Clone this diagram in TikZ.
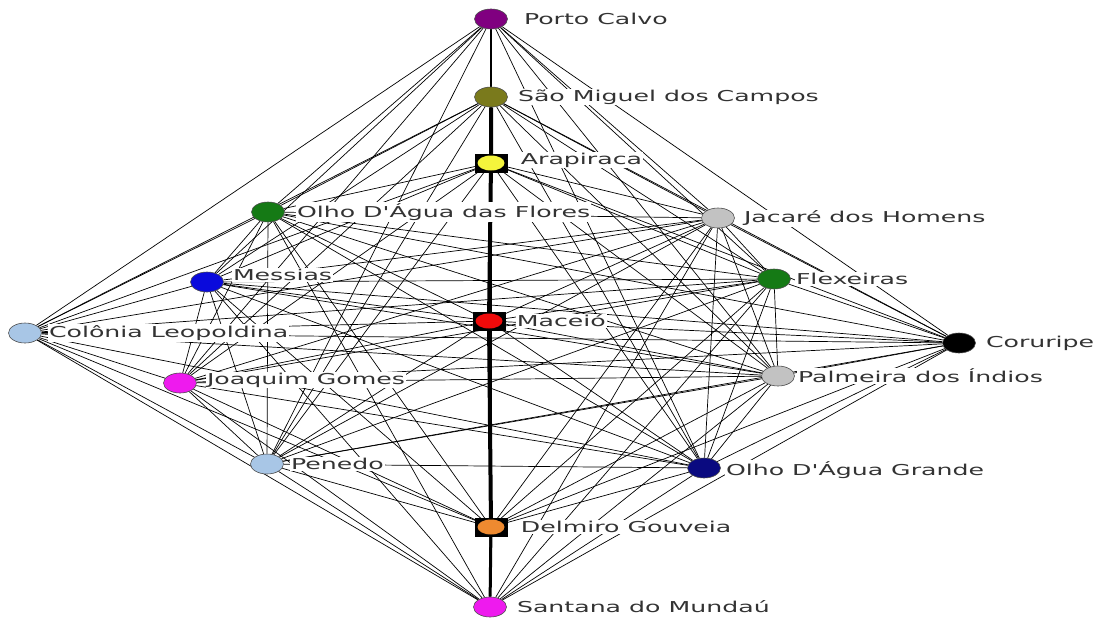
\documentclass[tikz,border=0pt]{standalone}
\usepackage{fontspec}
\newfontfamily\lblfont[FakeStretch=1.68]{DejaVu Sans}
\usetikzlibrary{positioning,shapes.geometric,backgrounds}
\definecolor{pcpurple}{HTML}{800080}
\definecolor{smcolive}{HTML}{7A7A1C}
\definecolor{arayellow}{HTML}{F4F43C}
\definecolor{dkgreen}{HTML}{157A15}
\definecolor{citygray}{HTML}{C2C2C2}
\definecolor{mesblue}{HTML}{0A0ADC}
\definecolor{ltblue}{HTML}{A8C6E6}
\definecolor{macred}{HTML}{F00A0A}
\definecolor{cityviolet}{HTML}{EE1AEE}
\definecolor{oagnavy}{HTML}{0A0A80}
\definecolor{delorange}{HTML}{EE8A30}

\begin{document}
\begin{tikzpicture}[x=1pt,y=-1pt,
  city/.style={ellipse,draw=black!70,line width=.6pt,minimum width=33pt,minimum height=20pt,inner sep=0pt},
  boxed/.style={rectangle,fill=black,minimum width=33pt,minimum height=19pt,inner sep=0pt},
  incity/.style={ellipse,minimum width=27pt,minimum height=15pt,inner sep=0pt},
  lbl/.style={fill=white,inner sep=1pt,text=black!80,font=\lblfont\fontsize{15}{17}\selectfont},
  link/.style={line width=.7pt},
  trunk/.style={line width=4pt}]
\useasboundingbox (0,0) rectangle (1103,619);

\node[city,fill=pcpurple] (pc) at (491,19) {};
\node[city,fill=smcolive] (smc) at (491,97) {};
\node[boxed] (arabox) at (491,163) {};
\node[incity,fill=arayellow] (ara) at (arabox) {};
\node[city,fill=dkgreen] (odf) at (268,212) {};
\node[city,fill=citygray] (jac) at (718,218) {};
\node[city,fill=dkgreen] (flx) at (774,279) {};
\node[city,fill=mesblue] (mes) at (207,282) {};
\node[city,fill=ltblue] (col) at (25,333) {};
\node[boxed] (macbox) at (489,321) {};
\node[incity,fill=macred] (mac) at (macbox) {};
\node[city,fill=black] (cor) at (959,343) {};
\node[city,fill=cityviolet] (jgo) at (180,383) {};
\node[city,fill=citygray] (pal) at (778,376) {};
\node[city,fill=ltblue] (pen) at (267,464) {};
\node[city,fill=oagnavy] (oag) at (704,468) {};
\node[boxed] (delbox) at (491,527) {};
\node[incity,fill=delorange] (del) at (delbox) {};
\node[city,fill=cityviolet] (san) at (490,607) {};

\node[lbl,right=15pt of pc] (pclbl) {Porto Calvo};
\node[lbl,right=9pt of smc] (smclbl) {São Miguel dos Campos};
\node[lbl,right=12pt of arabox,yshift=3pt] (aralbl) {Arapiraca};
\node[lbl,right=11pt of odf] (odflbl) {Olho D'Água das Flores};
\node[lbl,right=8pt of jac] (jaclbl) {Jacaré dos Homens};
\node[lbl,right=4pt of flx] (flxlbl) {Flexeiras};
\node[lbl,right=8pt of mes,yshift=7pt] (meslbl) {Messias};
\node[lbl,right=6pt of col] (collbl) {Colônia Leopoldina};
\node[lbl,right=10pt of macbox] (maclbl) {Maceió};
\node[lbl,right=9pt of cor] (corlbl) {Coruripe};
\node[lbl,right=9pt of jgo,yshift=3pt] (jgolbl) {Joaquim Gomes};
\node[lbl,right=2pt of pal] (pallbl) {Palmeira dos Índios};
\node[lbl,right=6pt of pen] (penlbl) {Penedo};
\node[lbl,right=4pt of oag,yshift=-2pt] (oaglbl) {Olho D'Água Grande};
\node[lbl,right=12pt of delbox] (dellbl) {Delmiro Gouveia};
\node[lbl,right=9pt of san] (sanlbl) {Santana do Mundaú};

\begin{pgfonlayer}{background}
\foreach \a [count=\i] in {pc,smc,ara,odf,jac,flx,mes,col,mac,cor,jgo,pal,pen,oag,del,san}
  \foreach \b [count=\j] in {pc,smc,ara,odf,jac,flx,mes,col,mac,cor,jgo,pal,pen,oag,del,san}
    {\ifnum\j>\i \draw[link] (\a) -- (\b);\fi}
\draw[line width=1.6pt] (pc) -- (smc);
\draw[trunk] (smc) -- (ara) -- (mac) -- (del);
\draw[line width=3pt] (del) -- (san);
\end{pgfonlayer}
\end{tikzpicture}
\end{document}
